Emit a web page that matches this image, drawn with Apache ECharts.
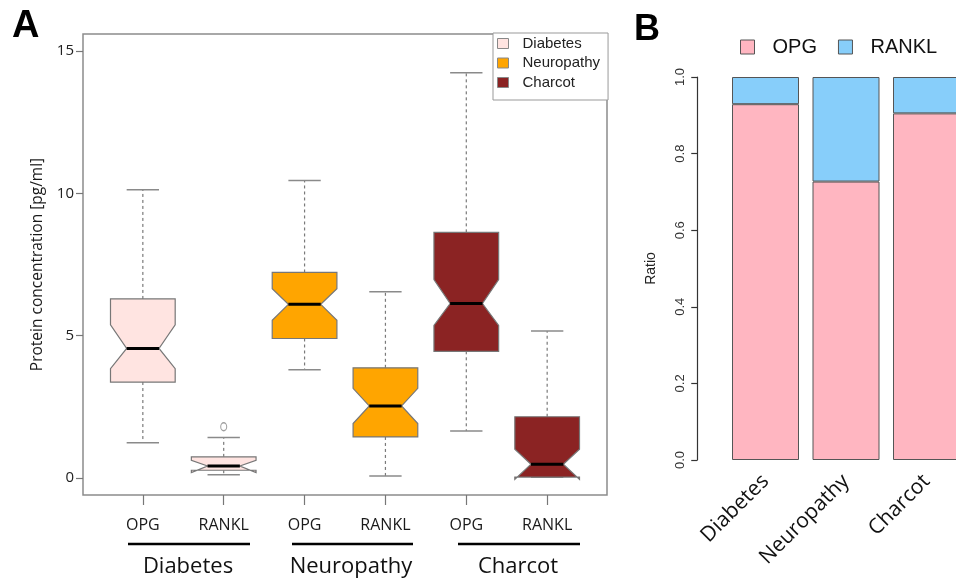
<!DOCTYPE html>
<html><head><meta charset="utf-8">
<script src="https://cdn.jsdelivr.net/npm/echarts@6/dist/echarts.min.js"></script>
<style>html,body{margin:0;padding:0;background:#fff}#c{width:956px;height:579px}</style>
</head><body><div id="c"></div>
<script>
// ---- data ----
const groups = ['Diabetes', 'Neuropathy', 'Charcot'];
const proteins = ['OPG', 'RANKL'];
// [lower whisker, Q1, notch low, median, notch high, Q3, upper whisker]
const diabetesStats   = [[1.24, 3.37, 3.84, 4.55, 5.38, 6.29, 10.13], [0.11, 0.27, 0.19, 0.42, 0.62, 0.74, 1.42]];
const neuropathyStats = [[3.80, 4.90, 5.54, 6.10, 6.65, 7.22, 10.45], [0.07, 1.44, 1.91, 2.53, 3.15, 3.87, 6.54]];
const charcotStats    = [[1.65, 4.45, 5.36, 6.13, 6.97, 8.63, 14.24], [0.02, 0.03, -0.05, 0.48, 1.01, 2.15, 5.16]];
const outlierValues = [[2, 1.80]];
const yTicksA = [0, 5, 10, 15];
const ratioGroups = ['Diabetes', 'Neuropathy', 'Charcot'];
const opgRatio   = [0.929, 0.727, 0.905];
const ranklRatio = [0.071, 0.273, 0.095];

const groupColors = ['#FFE4E1', '#FFA500', '#8B2323'];
const allStats = [diabetesStats, neuropathyStats, charcotStats];
const positions = [1, 2, 3, 4, 5, 6];

const chart = echarts.init(document.getElementById('c'), null, {renderer: 'canvas'});

function makeRender(color) {
  return function (params, api) {
    const x = api.value(0);
    const mn = api.value(1), q1 = api.value(2), nl = api.value(3), md = api.value(4),
          nh = api.value(5), q3 = api.value(6), mx = api.value(7);
    const hw = api.size([0.4, 0])[0];
    const cx = api.coord([x, md])[0];
    const y = v => api.coord([x, v])[1];
    const pts = [
      [cx - hw, y(q1)], [cx - hw, y(nl)], [cx - hw / 2, y(md)], [cx - hw, y(nh)], [cx - hw, y(q3)],
      [cx + hw, y(q3)], [cx + hw, y(nh)], [cx + hw / 2, y(md)], [cx + hw, y(nl)], [cx + hw, y(q1)]
    ];
    const dash = {stroke: '#7a7a7a', lineWidth: 1.2, lineDash: [3, 3]};
    const cap = {stroke: '#8a8a8a', lineWidth: 1.5};
    return {
      type: 'group',
      children: [
        {type: 'line', shape: {x1: cx, y1: y(q3), x2: cx, y2: y(mx)}, style: dash},
        {type: 'line', shape: {x1: cx, y1: y(q1), x2: cx, y2: y(mn)}, style: dash},
        {type: 'line', shape: {x1: cx - hw / 2, y1: y(mx), x2: cx + hw / 2, y2: y(mx)}, style: cap},
        {type: 'line', shape: {x1: cx - hw / 2, y1: y(mn), x2: cx + hw / 2, y2: y(mn)}, style: cap},
        {type: 'polygon', shape: {points: pts}, style: {fill: color, stroke: '#777', lineWidth: 1.2}},
        {type: 'line', shape: {x1: cx - hw / 2, y1: y(md), x2: cx + hw / 2, y2: y(md)}, style: {stroke: '#000', lineWidth: 3}}
      ]
    };
  };
}

const boxSeries = groups.map((g, gi) => ({
  type: 'custom',
  name: g,
  xAxisIndex: 0, yAxisIndex: 0,
  itemStyle: {color: groupColors[gi], borderColor: '#888', borderWidth: 1},
  renderItem: makeRender(groupColors[gi]),
  encode: {x: 0, y: [1, 2, 3, 4, 5, 6, 7]},
  data: allStats[gi].map((s, k) => [positions[gi * 2 + k]].concat(s)),
  silent: true
}));

const option = {
  backgroundColor: '#fff',
  animation: false,
  grid: [
    {left: 83, top: 34, right: 349, bottom: 84, show: true, borderColor: '#8c8c8c', borderWidth: 1.5,
     backgroundColor: 'transparent', outerBoundsMode: 'none'},
    {left: 725.25, top: 77, width: 241.5, bottom: 119, outerBoundsMode: 'none'}
  ],
  xAxis: [
    {type: 'value', gridIndex: 0, min: 0.26, max: 6.74,
     axisLine: {show: false, onZero: false}, splitLine: {show: false},
     axisTick: {show: true, length: 10, customValues: positions, lineStyle: {color: '#777', width: 1.2}},
     axisLabel: {customValues: positions, margin: 22, fontFamily: 'Open Sans', fontSize: 16, color: '#1a1a1a',
                 formatter: v => proteins[(Math.round(v) - 1) % 2]}},
    {type: 'category', gridIndex: 1, data: ratioGroups,
     axisLine: {show: false}, axisTick: {show: false},
     axisLabel: {rotate: 45, margin: 18, fontFamily: 'Open Sans', fontSize: 21, color: '#111', interval: 0}}
  ],
  yAxis: [
    {type: 'value', gridIndex: 0, min: -0.6, max: 15.6,
     name: 'Protein concentration [pg/ml]', nameLocation: 'middle', nameGap: 36,
     nameTextStyle: {fontFamily: 'Open Sans', fontSize: 15.5, color: '#1a1a1a'},
     axisLine: {show: false}, splitLine: {show: false},
     axisTick: {show: true, length: 7, customValues: yTicksA, lineStyle: {color: '#777', width: 1.2}},
     axisLabel: {customValues: yTicksA, margin: 9, fontFamily: 'Open Sans', fontSize: 15, color: '#222'}},
    {type: 'value', gridIndex: 1, min: 0, max: 1, interval: 0.2, offset: 28,
     name: 'Ratio', nameLocation: 'middle', nameGap: 39,
     nameTextStyle: {fontFamily: 'Liberation Sans', fontSize: 14, color: '#222'},
     axisLine: {show: true, lineStyle: {color: '#333', width: 1.2}},
     axisTick: {show: true, length: 6, lineStyle: {color: '#333', width: 1.2}},
     splitLine: {show: false},
     axisLabel: {rotate: 90, margin: 10, fontFamily: 'Liberation Sans', fontSize: 13, color: '#333',
                 formatter: v => v.toFixed(1)}}
  ],
  legend: [
    {orient: 'vertical', left: 493, top: 33, padding: [3, 8, 10, 4], itemGap: 4.5,
     icon: 'rect', itemWidth: 11, itemHeight: 10, selectedMode: false,
     borderColor: '#999', borderWidth: 1, backgroundColor: '#fff',
     textStyle: {fontFamily: 'Liberation Sans', fontSize: 15, color: '#222', padding: [0, 0, 0, 9]},
     data: groups.map((g, i) => ({name: g, itemStyle: {color: groupColors[i], borderColor: '#888', borderWidth: 1}}))},
    {orient: 'horizontal', left: 740, top: 37, padding: 0, itemGap: 21,
     icon: 'rect', itemWidth: 14, itemHeight: 14, selectedMode: false,
     textStyle: {fontFamily: 'Liberation Sans', fontSize: 20, color: '#111', padding: [0, 0, 0, 13]},
     data: [{name: 'OPG', itemStyle: {color: '#FFB6C1', borderColor: '#555', borderWidth: 1}},
            {name: 'RANKL', itemStyle: {color: '#87CEFA', borderColor: '#555', borderWidth: 1}}]}
  ],
  series: boxSeries.concat([
    {type: 'scatter', name: 'outlier', xAxisIndex: 0, yAxisIndex: 0, data: outlierValues,
     symbol: 'circle', symbolSize: [6, 8], silent: true,
     itemStyle: {color: 'rgba(0,0,0,0)', borderColor: '#888', borderWidth: 1.2}},
    {type: 'bar', name: 'OPG', xAxisIndex: 1, yAxisIndex: 1, stack: 'r', barWidth: 67, data: opgRatio,
     itemStyle: {color: '#FFB6C1', borderColor: '#555', borderWidth: 1}},
    {type: 'bar', name: 'RANKL', xAxisIndex: 1, yAxisIndex: 1, stack: 'r', barWidth: 67, data: ranklRatio,
     itemStyle: {color: '#87CEFA', borderColor: '#555', borderWidth: 1}}
  ]),
  graphic: [
    {type: 'text', left: 12, top: 8, style: {text: 'A', font: 'bold 38px "Liberation Sans"', fill: '#000'}},
    {type: 'text', left: 634, top: 12, style: {text: 'B', font: 'bold 36px "Liberation Sans"', fill: '#000'}},
    {type: 'line', shape: {x1: 128, y1: 544, x2: 250, y2: 544}, style: {stroke: '#000', lineWidth: 2.5}},
    {type: 'line', shape: {x1: 292, y1: 544, x2: 413, y2: 544}, style: {stroke: '#000', lineWidth: 2.5}},
    {type: 'line', shape: {x1: 458, y1: 544, x2: 580, y2: 544}, style: {stroke: '#000', lineWidth: 2.5}},
    {type: 'text', x: 188, y: 567, style: {text: groups[0], font: '22px "Open Sans"', fill: '#111', textAlign: 'center', textVerticalAlign: 'middle'}},
    {type: 'text', x: 351, y: 567, style: {text: groups[1], font: '22px "Open Sans"', fill: '#111', textAlign: 'center', textVerticalAlign: 'middle'}},
    {type: 'text', x: 518, y: 567, style: {text: groups[2], font: '22px "Open Sans"', fill: '#111', textAlign: 'center', textVerticalAlign: 'middle'}}
  ]
};
chart.setOption(option);
</script>
</body></html>
